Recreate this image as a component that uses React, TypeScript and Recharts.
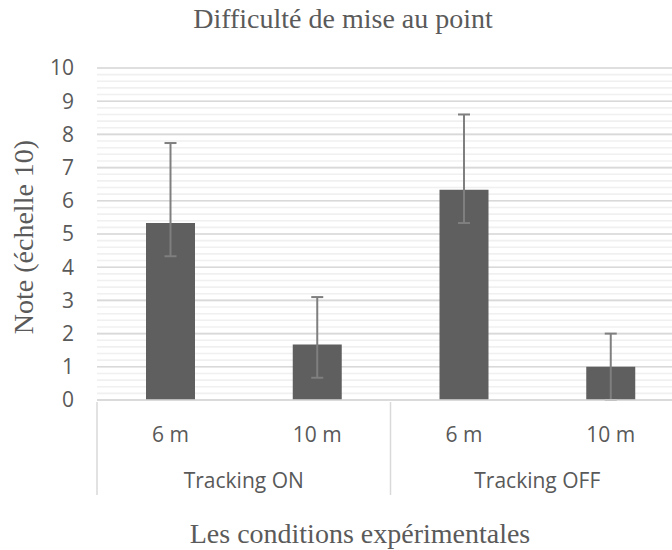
// App.tsx - grouped bar chart with asymmetric error bars (Excel-like look)
import { BarChart, Bar, XAxis, YAxis, CartesianGrid, ErrorBar } from 'recharts';

const distances = ['6 m', '10 m', '6 m', '10 m'];
const groups = ['Tracking ON', 'Tracking ON', 'Tracking OFF', 'Tracking OFF'];
const means = [5.33, 1.67, 6.33, 1.0];
const errLow = [1, 1, 1, 1];
const errHigh = [2.41, 1.43, 2.27, 1.0];
const yTicks = [0, 1, 2, 3, 4, 5, 6, 7, 8, 9, 10];
const Y_MAX = 10;
// minor gridlines every 0.2
const minorTicks = Array.from({ length: 51 }, (_, i) => Math.round(i * 2) / 10);

const W = 672;
const H = 550;
const MARGIN = { top: 68, right: -12, left: 0, bottom: 0 };
const Y_AXIS_W = 97;
const X_AXIS_H = 150;
const PLOT_W = W - Y_AXIS_W - MARGIN.left - MARGIN.right;
const BAND = PLOT_W / distances.length;

const TEXT = '#595959';
const SANS = '"Open Sans", sans-serif';
const SERIF = '"Liberation Serif", serif';

const data = distances.map((d, i) => ({
  dist: d,
  group: groups[i],
  mean: means[i],
  err: [errLow[i], errHigh[i]],
}));

// grid y positions (horizontalValues drops "overlapping" ones, so map them ourselves)
const gridAt = (values: number[]) => ({ yAxis, offset }: any) =>
  values.map((v) => {
    const s = yAxis && yAxis.scale;
    if (typeof s === 'function') return s(v);
    return offset.top + offset.height * (1 - v / Y_MAX);
  });

// two-level category axis: distance on top row, group label under each pair
const XTick = (props: any) => {
  const { x, y, index } = props;
  const first = index === 0 || groups[index] !== groups[index - 1];
  return (
    <g>
      <text x={x} y={y + 40} textAnchor="middle" fill={TEXT} fontSize={21} fontFamily={SANS}>
        {distances[index]}
      </text>
      {first && (
        <>
          <line x1={x - BAND / 2} y1={y} x2={x - BAND / 2} y2={y + 93} stroke="#d9d9d9" strokeWidth={1.5} />
          <text x={x + BAND / 2} y={y + 86} textAnchor="middle" fill={TEXT} fontSize={21} fontFamily={SANS}>
            {groups[index]}
          </text>
        </>
      )}
    </g>
  );
};

export default function App() {
  return (
    <div style={{ position: 'relative', width: W, height: H }}>
      <style>{'body{margin:0}'}</style>
      <BarChart width={W} height={H} data={data} margin={MARGIN}>
        <CartesianGrid
          vertical={false}
          horizontalCoordinatesGenerator={gridAt(minorTicks)}
          stroke="#f0f0f0"
          strokeWidth={1.6}
        />
        <CartesianGrid
          vertical={false}
          horizontalCoordinatesGenerator={gridAt(yTicks)}
          stroke="#d9d9d9"
          strokeWidth={1.6}
        />
        <XAxis
          dataKey="dist"
          height={X_AXIS_H}
          tickLine={false}
          tickSize={0}
          axisLine={{ stroke: '#d9d9d9', strokeWidth: 1.5 }}
          tick={(p: any) => <XTick {...p} />}
          interval={0}
        />
        <YAxis
          type="number"
          domain={[0, Y_MAX]}
          ticks={yTicks}
          interval={0}
          width={Y_AXIS_W}
          axisLine={false}
          tickLine={false}
          tickSize={0}
          tickMargin={23}
          tick={{ fill: TEXT, fontSize: 21, fontFamily: SANS }}
        />
        <Bar dataKey="mean" fill="#5f5f5f" barSize={49} isAnimationActive={false}>
          <ErrorBar dataKey="err" width={6} stroke="#7f7f7f" strokeWidth={2} />
        </Bar>
      </BarChart>
      <svg
        width={W}
        height={H}
        style={{ position: 'absolute', left: 0, top: 0, pointerEvents: 'none' }}
      >
        <text x={343} y={28} textAnchor="middle" fill="#5a5a5a" fontSize={28} fontFamily={SERIF}>
          Difficulté de mise au point
        </text>
        <text x={360} y={543} textAnchor="middle" fill="#5a5a5a" fontSize={28} fontFamily={SERIF}>
          Les conditions expérimentales
        </text>
        <text
          x={33}
          y={237}
          transform="rotate(-90 33 237)"
          textAnchor="middle"
          fill="#5a5a5a"
          fontSize={28}
          fontFamily={SERIF}
        >
          Note (échelle 10)
        </text>
      </svg>
    </div>
  );
}
